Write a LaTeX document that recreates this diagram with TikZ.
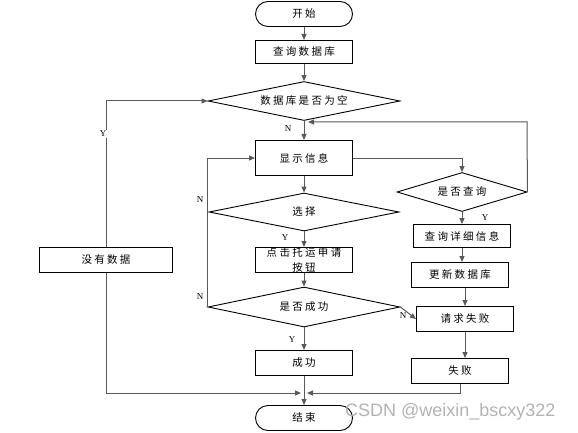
\documentclass[tikz,border=0pt]{standalone}
\usepackage{fontspec}
\setmainfont{Liberation Serif}
\newfontfamily\cjk[LetterSpace=22]{Noto Sans CJK SC}
\newfontfamily\wm{Liberation Sans}
\usetikzlibrary{shapes.geometric,shapes.misc,arrows.meta}
\begin{document}
\begin{tikzpicture}[x=1pt,y=-1pt,
  every node/.style={font=\cjk\fontsize{10.5}{12}\selectfont},
  procbox/.style={draw=black,line width=1pt,rectangle,inner sep=0pt,minimum width=97pt,minimum height=25pt},
  termbox/.style={draw=black,line width=0.9pt,rounded rectangle,inner sep=0pt,minimum width=97pt,minimum height=25pt},
  decbox/.style={draw=black,line width=0.9pt,diamond,inner sep=0pt,aspect=4},
  conn/.style={draw=black!65,line width=1pt},
  arr/.style={conn,-{Triangle[length=6pt,width=5pt]}},
  lab/.style={font=\rmfamily\fontsize{9}{10}\selectfont,inner sep=1pt},
]
\useasboundingbox (0,0) rectangle (578,433);
% nodes
\node[termbox] (start) at (304,14) {开始};
\node[procbox,minimum height=23pt] (q1) at (304,52) {查询数据库};
\node[decbox,minimum width=192pt,minimum height=39pt] (d1) at (304,101) {数据库是否为空};
\node[procbox,minimum width=133pt] (nodata) at (106,260) {没有数据};
\node[procbox,minimum height=35pt] (show) at (304,158) {显示信息};
\node[decbox,minimum width=190pt,minimum height=38pt] (d2) at (304,212) {选择};
\node[procbox,
  label={[align=center,font=\cjk\fontsize{10.5}{14.5}\selectfont]center:点击托运申请\\按钮}] (click) at (304,260) {};
\node[decbox,minimum width=192pt,minimum height=40pt] (d3) at (304,307) {是否成功};
\node[procbox] (succ) at (304,363) {成功};
\node[termbox] (stop) at (304,418) {结束};
\node[decbox,minimum width=130pt,minimum height=39pt] (d4) at (462,192) {是否查询};
\node[procbox,minimum height=23pt] (detail) at (462,236) {查询详细信息};
\node[procbox] (update) at (460,275) {更新数据库};
\node[procbox] (reqfail) at (465,319) {请求失败};
\node[procbox] (fail) at (460,371) {失败};
\coordinate (merge) at (304,393);
\coordinate (back) at (304,122);
\coordinate (upr) at (527,122);
% main column
\draw[arr] (start) -- (q1);
\draw[arr] (q1) -- (d1);
\draw[arr] (d1) -- (show);
\draw[arr] (show) -- (d2);
\draw[arr] (d2) -- (click);
\draw[arr] (click) -- (d3);
\draw[arr] (d3) -- (succ);
\draw[arr] (succ) -- (stop);
\node[lab] (n1) at (288,129) {N};
\node[lab] (y2) at (285,238) {Y};
\node[lab] (y3) at (292,340) {Y};
% left loop
\draw[arr] (nodata.north) |- (d1.west);
\node[lab,fill=white] (y1) at (103,134) {Y};
\draw[arr,shorten >=3pt] (nodata.south) |- (merge);
\draw[arr] (d3.west) -- (d3.west |- show.west) -- (show.west);
\node[lab] (n2) at (200,200) {N};
\node[lab] (n3) at (200,297) {N};
% right branch
\draw[arr] (show.east) -| (d4.north);
\draw[arr,shorten >=4pt] (d4.east) -- (upr) -- (back);
\draw[arr] (d4) -- (detail);
\node[lab] (y4) at (485,218) {Y};
\draw[arr] (detail.south) -- (detail.south |- update.north);
\draw[arr] (reqfail.north |- update.south) -- (reqfail.north);
\draw[arr] (d3.east) -- (reqfail.west);
\node[lab] (n4) at (403,316) {N};
\draw[arr] (reqfail.south) -- (reqfail.south |- fail.north);
\draw[arr,shorten >=3pt] (fail.south) |- (merge);
% watermark
\node[font=\wm\fontsize{18}{20}\selectfont,text=black!30,anchor=west,inner sep=0pt] (wmark) at (345,412) {CSDN @weixin\_bscxy322};
\end{tikzpicture}
\end{document}
